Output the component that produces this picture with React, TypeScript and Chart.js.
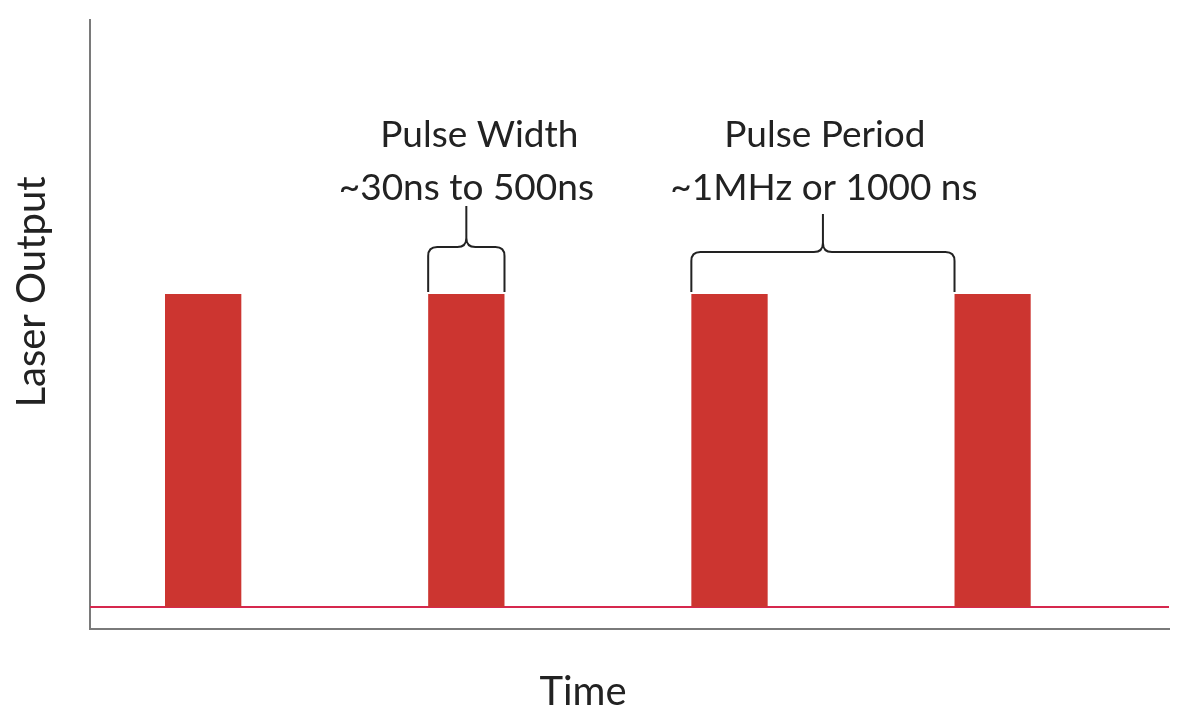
import { useEffect, useRef } from "react";
import { Chart, registerables } from "chart.js";

Chart.register(...registerables);

// Data (time in ns, output normalised 0..1)
const pulseStarts = [285, 1285, 2285, 3285];
const pulseWidth = 290;
const pulseHigh = 1;
const baselineLevel = 0;
const timeRange = [0, 4100];
const outputRange = [-0.07, 1.875];
const widthLabel = ["Pulse Width", "~30ns to 500ns"];
const periodLabel = ["Pulse Period", "~1MHz or 1000 ns"];
const xTitle = "Time";
const yTitle = "Laser Output";

const FONT = "Lato, 'Open Sans', sans-serif";

function drawBrace(ctx: CanvasRenderingContext2D, x0: number, x1: number, yBottom: number, yBar: number, yTip: number) {
  const xm = (x0 + x1) / 2;
  const r = 9;
  ctx.beginPath();
  ctx.moveTo(x0, yBottom);
  ctx.lineTo(x0, yBar + r);
  ctx.quadraticCurveTo(x0, yBar, x0 + r, yBar);
  ctx.lineTo(xm - r, yBar);
  ctx.quadraticCurveTo(xm, yBar, xm, yBar - r);
  ctx.lineTo(xm, yTip);
  ctx.moveTo(xm, yBar - r);
  ctx.quadraticCurveTo(xm, yBar, xm + r, yBar);
  ctx.lineTo(x1 - r, yBar);
  ctx.quadraticCurveTo(x1, yBar, x1, yBar + r);
  ctx.lineTo(x1, yBottom);
  ctx.stroke();
}

const annotationPlugin = {
  id: "annotations",
  afterDatasetsDraw(chart: any) {
    const { ctx, scales, chartArea } = chart;
    const xs = scales.x;
    const ys = scales.y;
    const yTop = ys.getPixelForValue(pulseHigh);
    ctx.save();
    ctx.strokeStyle = "#222";
    ctx.lineWidth = 2;
    // pulse width brace
    const w0 = xs.getPixelForValue(pulseStarts[1]);
    const w1 = xs.getPixelForValue(pulseStarts[1] + pulseWidth);
    drawBrace(ctx, w0, w1, yTop - 2, yTop - 47, yTop - 88);
    // period brace
    const p0 = xs.getPixelForValue(pulseStarts[2]);
    const p1 = xs.getPixelForValue(pulseStarts[3]);
    drawBrace(ctx, p0, p1, yTop - 2, yTop - 42, yTop - 80);

    ctx.fillStyle = "#222";
    ctx.textAlign = "center";
    ctx.textBaseline = "alphabetic";
    ctx.font = `37px ${FONT}`;
    const wm = (w0 + w1) / 2;
    ctx.fillText(widthLabel[0], wm + 13, yTop - 147);
    ctx.fillText(widthLabel[1], wm, yTop - 94);
    const pm = (p0 + p1) / 2;
    ctx.fillText(periodLabel[0], pm + 2, yTop - 147);
    ctx.fillText(periodLabel[1], pm + 1, yTop - 94);

    // axis titles
    ctx.font = `40px ${FONT}`;
    ctx.fillText(xTitle, chartArea.left + 493, chartArea.bottom + 76);
    ctx.translate(chartArea.left - 45, chartArea.top + 272);
    ctx.rotate(-Math.PI / 2);
    ctx.fillText(yTitle, 0, 0);
    ctx.restore();
  },
};

export default function App() {
  const ref = useRef<HTMLCanvasElement>(null);
  useEffect(() => {
    if (!ref.current) return;
    const pulsePoints: { x: number; y: number }[] = [];
    pulseStarts.forEach((s) => {
      pulsePoints.push({ x: s, y: baselineLevel });
      pulsePoints.push({ x: s, y: pulseHigh });
      pulsePoints.push({ x: s + pulseWidth, y: pulseHigh });
      pulsePoints.push({ x: s + pulseWidth, y: baselineLevel });
    });
    const chart = new Chart(ref.current, {
      type: "line",
      data: {
        datasets: [
          {
            label: "Pulses",
            data: pulsePoints,
            borderWidth: 0,
            borderColor: "rgba(0,0,0,0)",
            backgroundColor: "#cc3530",
            fill: "origin",
            pointRadius: 0,
            tension: 0,
          },
          {
            label: "Baseline",
            data: [
              { x: timeRange[0], y: baselineLevel },
              { x: timeRange[1], y: baselineLevel },
            ],
            borderWidth: 2,
            borderColor: "#d6284e",
            pointRadius: 0,
            fill: false,
          },
        ],
      },
      options: {
        animation: false,
        responsive: true,
        maintainAspectRatio: false,
        layout: { padding: { left: 90, right: 11, top: 20, bottom: 84 } },
        plugins: { legend: { display: false }, tooltip: { enabled: false } },
        scales: {
          x: {
            type: "linear",
            min: timeRange[0],
            max: timeRange[1],
            ticks: { display: false },
            grid: { display: false, drawTicks: false },
            border: { display: true, color: "#7a7a7a", width: 2 },
          },
          y: {
            type: "linear",
            min: outputRange[0],
            max: outputRange[1],
            ticks: { display: false },
            grid: { display: false, drawTicks: false },
            border: { display: true, color: "#7a7a7a", width: 2 },
          },
        },
      },
      plugins: [annotationPlugin],
    });
    return () => chart.destroy();
  }, []);
  return (
    <div style={{ position: "fixed", left: 0, top: 0, width: 1180, height: 713, background: "#fff" }}>
      <canvas ref={ref} />
    </div>
  );
}
